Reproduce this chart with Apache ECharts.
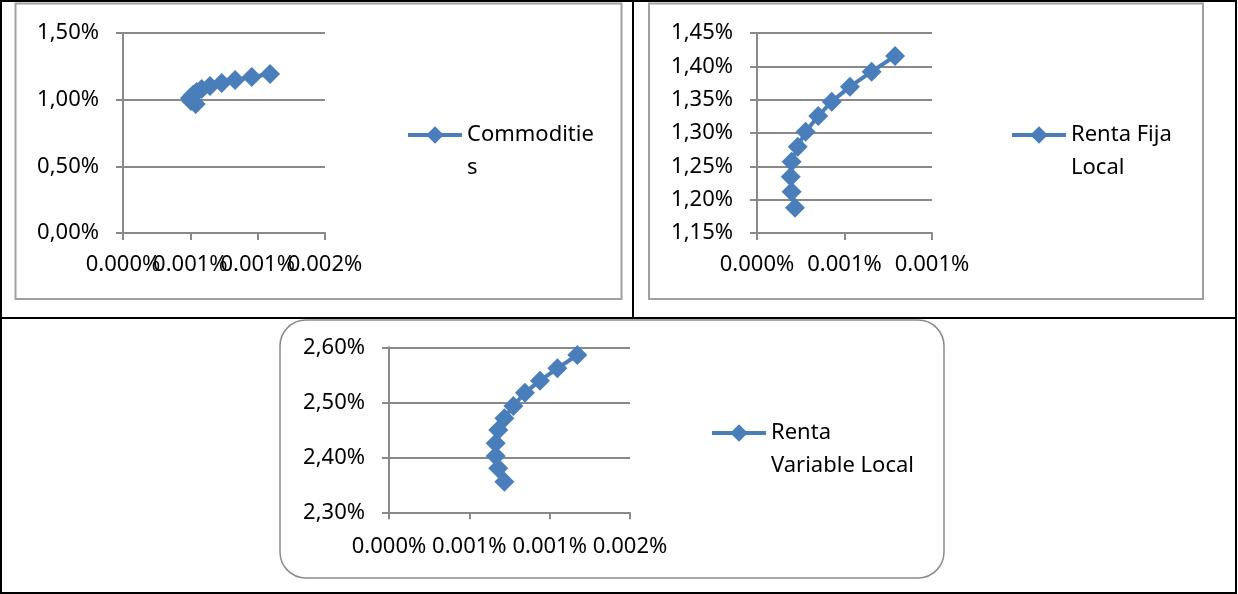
<!DOCTYPE html>
<html><head><meta charset="utf-8">
<script src="https://cdn.jsdelivr.net/npm/echarts@6/dist/echarts.min.js"></script>
<style>html,body{margin:0;padding:0;background:#fff}#c{width:1238px;height:594px}</style>
</head><body><div id="c"></div>
<script>
// ---------- data ----------
const seriesNames = ['Commodities', 'Renta Fija Local', 'Renta Variable Local'];
const legendLabels = [' \nCommoditie\ns', ' \nRenta Fija\nLocal', ' \nRenta\nVariable Local'];

const commoditiesRisk   = [0.000540,0.000505,0.000498,0.000520,0.000547,0.000584,0.000646,0.000733,0.000832,0.000956,0.001092];
const commoditiesReturn = [0.9675,0.99,1.0125,1.035,1.0575,1.08,1.1025,1.125,1.1475,1.17,1.1925];

const rentaFijaRisk   = [0.000217,0.000198,0.000193,0.000198,0.000233,0.000278,0.000350,0.000427,0.000531,0.000655,0.000789];
const rentaFijaReturn = [1.188,1.212,1.2345,1.257,1.2795,1.302,1.3255,1.347,1.3695,1.392,1.4155];

const rentaVarRisk   = [0.000718,0.000680,0.000664,0.000664,0.000680,0.000718,0.000774,0.000846,0.000940,0.001048,0.001172];
const rentaVarReturn = [2.3556,2.38,2.4022,2.4254,2.4496,2.4709,2.4933,2.5175,2.5393,2.5618,2.586];

// tick labels
const xTicks1 = ['0.000%','0.001%','0.001%','0.002%'];
const yTicks1 = ['0,00%','0,50%','1,00%','1,50%'];
const xTicks2 = ['0.000%','0.001%','0.001%'];
const yTicks2 = ['1,15%','1,20%','1,25%','1,30%','1,35%','1,40%','1,45%'];
const xTicks3 = ['0.000%','0.001%','0.001%','0.002%'];
const yTicks3 = ['2,30%','2,40%','2,50%','2,60%'];

// ---------- chart ----------
const FONT = '"Noto Sans", sans-serif';
const BLUE = '#4A7EBB';
const GRIDC = '#898989';

function zip(a, b) { return a.map((v, i) => [v, b[i]]); }
// parity: null = all labels, 0 = even-indexed only, 1 = odd-indexed only
function tickFmt(labels, min, interval, parity) {
  return v => {
    const i = Math.round((v - min) / interval);
    if (parity != null && i % 2 !== parity) return '';
    return labels[i] ?? '';
  };
}
function xAxis(idx, labels, min, max, interval, margin, parity, showLine) {
  return {
    type: 'value', gridIndex: idx, min, max, interval, position: 'bottom', offset: 0,
    axisLine: { show: showLine, lineStyle: { color: GRIDC, width: 2 } },
    axisTick: { show: showLine, length: 7, lineStyle: { color: GRIDC, width: 2 } },
    splitLine: { show: false },
    axisLabel: {
      formatter: tickFmt(labels, min, interval, parity),
      color: '#000', fontFamily: FONT, fontSize: 22, margin, hideOverlap: false,
      showMinLabel: true, showMaxLabel: true
    }
  };
}
function yAxis(idx, labels, min, max, interval) {
  return {
    type: 'value', gridIndex: idx, min, max, interval,
    axisLine: { show: true, lineStyle: { color: GRIDC, width: 2 } },
    axisTick: { show: true, length: 7, lineStyle: { color: GRIDC, width: 2 } },
    splitLine: { show: true, lineStyle: { color: GRIDC, width: 2 } },
    axisLabel: { formatter: tickFmt(labels, min, interval, null), color: '#000', fontFamily: FONT, fontSize: 22, margin: 24, showMinLabel: true, showMaxLabel: true }
  };
}
function series(idx, name, xs, ys) {
  return {
    type: 'line', name, xAxisIndex: idx, yAxisIndex: idx,
    data: zip(xs, ys), symbol: 'diamond', symbolSize: 20, clip: false,
    itemStyle: { color: BLUE }, lineStyle: { color: BLUE, width: 4 },
    emphasis: { disabled: true }, animation: false
  };
}
function legend(name, left, top) {
  return {
    data: [name], left, top, padding: 0, itemWidth: 54, itemHeight: 22,
    selectedMode: false,
    lineStyle: { width: 4, color: BLUE },
    formatter: n => legendLabels[seriesNames.indexOf(n)],
    textStyle: { fontFamily: FONT, fontSize: 22, color: '#000', lineHeight: 33 }
  };
}

const chart = echarts.init(document.getElementById('c'), null, { renderer: 'canvas' });
chart.setOption({
  animation: false,
  backgroundColor: '#fff',
  grid: [
    { left: 123, top: 33, width: 202, height: 200, outerBoundsMode: 'none' },
    { left: 757, top: 33, width: 175, height: 200, outerBoundsMode: 'none' },
    { left: 389, top: 347.3, width: 241, height: 165, outerBoundsMode: 'none' }
  ],
  xAxis: [
    xAxis(0, xTicks1, 0, 0.0015, 0.0005, 21, 0, true),
    xAxis(1, xTicks2, 0, 0.001, 0.0005, 21, null, true),
    xAxis(2, xTicks3, 0, 0.0015, 0.0005, 23, null, true),
    xAxis(0, xTicks1, 0, 0.0015, 0.0005, 21, 1, false)
  ],
  yAxis: [
    yAxis(0, yTicks1, 0, 1.5, 0.5),
    yAxis(1, yTicks2, 1.15, 1.45, 0.05),
    yAxis(2, yTicks3, 2.3, 2.6, 0.1)
  ],
  legend: [
    legend(seriesNames[0], 406, 85.5),
    legend(seriesNames[1], 1010, 85.5),
    legend(seriesNames[2], 710, 383.5)
  ],
  series: [
    series(0, seriesNames[0], commoditiesRisk, commoditiesReturn),
    series(1, seriesNames[1], rentaFijaRisk, rentaFijaReturn),
    series(2, seriesNames[2], rentaVarRisk, rentaVarReturn)
  ],
  graphic: [
    { type: 'rect', silent: true, shape: { x: 1, y: 1, width: 1235, height: 592 }, style: { fill: null, stroke: '#000', lineWidth: 2 } },
    { type: 'line', silent: true, shape: { x1: 633, y1: 1, x2: 633, y2: 318 }, style: { stroke: '#000', lineWidth: 2 } },
    { type: 'line', silent: true, shape: { x1: 1, y1: 318, x2: 1236, y2: 318 }, style: { stroke: '#000', lineWidth: 2 } },
    { type: 'rect', silent: true, shape: { x: 15.5, y: 3.5, width: 606, height: 295.5 }, style: { fill: null, stroke: '#a0a0a0', lineWidth: 2 } },
    { type: 'rect', silent: true, shape: { x: 649, y: 3.5, width: 554, height: 295.5 }, style: { fill: null, stroke: '#a0a0a0', lineWidth: 2 } },
    { type: 'rect', silent: true, shape: { x: 280, y: 320, width: 664, height: 258, r: 26 }, style: { fill: null, stroke: '#8a8a8a', lineWidth: 1.5 } }
  ]
});
</script>
</body></html>
